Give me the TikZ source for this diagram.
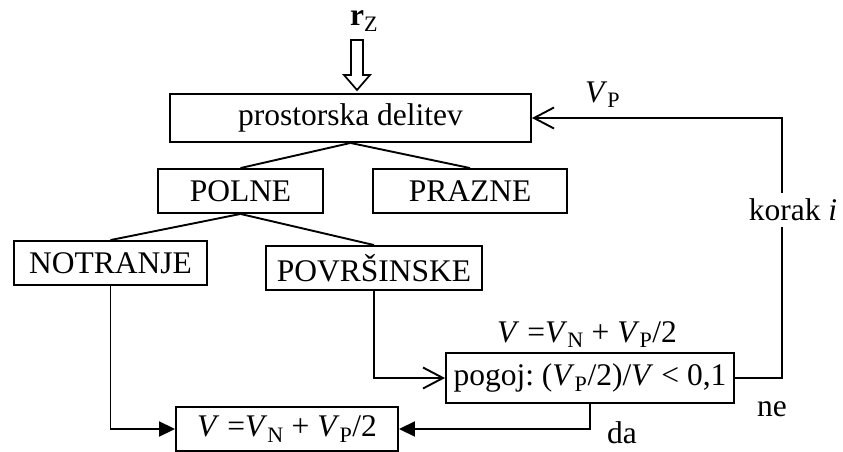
\documentclass[tikz,border=0pt]{standalone}
\usepackage{fontspec}
\setmainfont{Liberation Serif}
\usetikzlibrary{arrows.meta}
\frenchspacing
\tikzset{
  box/.style={draw, rectangle, inner sep=0pt, line width=1.9pt},
  lbl/.style={inner sep=0pt},
  openarr/.style={-{Straight Barb[length=20pt,width=21pt,line width=1.9pt]}},
  fillarr/.style={-{Triangle[length=16pt,width=15pt]}},
  conn/.style={line width=1.9pt}
}
\begin{document}
\begin{tikzpicture}[x=1pt,y=-1pt,font=\fontsize{31.5}{36}\selectfont]
\useasboundingbox (0,0) rectangle (843,452);
% boxes
\node[box, minimum width=361pt, minimum height=48pt] (pd) at (350.5,118) {prostorska delitev};
\node[box, minimum width=165pt, minimum height=44pt] (polne) at (240.5,191) {POLNE};
\node[box, minimum width=194pt, minimum height=44pt] (prazne) at (470,191) {PRAZNE};
\node[box, minimum width=193pt, minimum height=44pt] (notr) at (110.5,263) {NOTRANJE};
\node[box, minimum width=216pt, minimum height=44pt] (povr) at (374,268) {POVRŠINSKE};
\node[box, minimum width=288pt, minimum height=50pt] (pogoj) at (590,378) {pogoj: (\textit{V}\textsubscript{P}/2)/\textit{V} < 0,1};
\node[box, minimum width=222pt, minimum height=44pt] (vbox) at (287,429) {\textit{V} =\textit{V}\textsubscript{N} + \textit{V}\textsubscript{P}/2};
% input
\node[lbl, anchor=base west] (rz) at (350,26) {\textbf{r}\textsubscript{Z}};
\draw[line width=1.7pt, line join=miter] (351,40) -- (363,40) -- (363,75) -- (370,75) -- (357,90) -- (344,75) -- (351,75) -- cycle;
% tree lines
\draw[conn] (pd.south) -- (polne.north);
\draw[conn] (pd.south) -- (prazne.north);
\draw[conn] (polne.south) -- (notr.north);
\draw[conn] (polne.south) -- (povr.north);
% flow
\draw[conn, fillarr] (notr.south) |- (vbox.west);
\draw[conn, openarr] (povr.south) |- (pogoj.west);
\draw[conn, fillarr] (pogoj.south) |- (vbox.east);
\coordinate (rc) at (782,250);
\draw[conn, openarr] (pogoj.east) -| (rc) |- (pd.east);
% labels
\node[lbl, fill=white, inner xsep=2pt, inner ysep=6pt] (korak) at (793,210) {korak \textit{i}};
\node[lbl, anchor=base west] (vp) at (585,102) {\textit{V}\textsubscript{P}};
\node[lbl, anchor=base west] (vlab) at (497,342) {\textit{V} =\textit{V}\textsubscript{N} + \textit{V}\textsubscript{P}/2};
\node[lbl] (ne) at (772,409) {ne};
\node[lbl] (da) at (622,433) {da};
\end{tikzpicture}
\end{document}
